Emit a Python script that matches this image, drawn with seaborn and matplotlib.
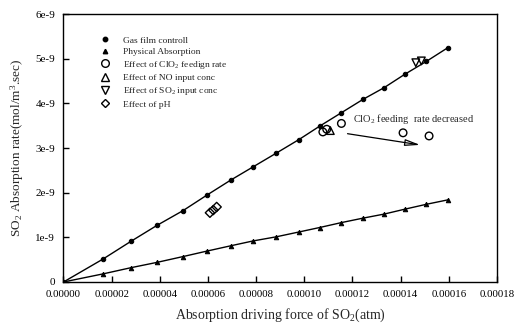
import matplotlib
matplotlib.use("Agg")
import matplotlib.pyplot as plt
from matplotlib.lines import Line2D
import seaborn as sns
import numpy as np
import pandas as pd

# ---- data ----
driving_force = [0.0, 1.63e-5, 2.80e-5, 3.89e-5, 4.97e-5, 5.94e-5, 6.94e-5, 7.88e-5,
                 8.82e-5, 9.78e-5, 10.64e-5, 11.54e-5, 12.44e-5, 13.31e-5, 14.17e-5,
                 15.07e-5, 15.97e-5]
gas_film = [0.0, 0.51e-9, 0.91e-9, 1.27e-9, 1.60e-9, 1.94e-9, 2.28e-9, 2.58e-9,
            2.88e-9, 3.19e-9, 3.49e-9, 3.79e-9, 4.09e-9, 4.35e-9, 4.65e-9,
            4.94e-9, 5.25e-9]
physical = [0.0, 0.18e-9, 0.32e-9, 0.44e-9, 0.57e-9, 0.69e-9, 0.81e-9, 0.92e-9,
            1.01e-9, 1.12e-9, 1.22e-9, 1.33e-9, 1.43e-9, 1.52e-9, 1.63e-9,
            1.74e-9, 1.84e-9]

clo2_x = [10.77e-5, 10.93e-5, 11.54e-5, 14.10e-5, 15.18e-5]
clo2_y = [3.36e-9, 3.42e-9, 3.55e-9, 3.34e-9, 3.27e-9]
no_x = [11.08e-5]
no_y = [3.39e-9]
so2_x = [14.63e-5, 14.86e-5]
so2_y = [4.91e-9, 4.95e-9]
ph_x = [6.08e-5, 6.22e-5, 6.36e-5]
ph_y = [1.55e-9, 1.61e-9, 1.68e-9]

arrow_start = (11.68e-5, 3.33e-9)
arrow_end = (14.92e-5, 3.06e-9)
note_pos = (12.02e-5, 3.65e-9)
note_text = "ClO$_2$ feeding  rate decreased"

x_ticks = [0, 2e-5, 4e-5, 6e-5, 8e-5, 10e-5, 12e-5, 14e-5, 16e-5, 18e-5]
x_tick_labels = ["0.00000", "0.00002", "0.00004", "0.00006", "0.00008",
                 "0.00010", "0.00012", "0.00014", "0.00016", "0.00018"]
y_ticks = [0, 1e-9, 2e-9, 3e-9, 4e-9, 5e-9, 6e-9]
y_tick_labels = ["0", "1e-9", "2e-9", "3e-9", "4e-9", "5e-9", "6e-9"]

labels = ["Gas film controll", "Physical Absorption",
          "Effect of ClO$_2$ feedign rate", "Effect of NO input conc",
          "Effect of SO$_2$ input conc", "Effect of pH"]

# ---- style ----
sns.set_style("ticks")
plt.rcParams["font.family"] = ["Liberation Serif", "DejaVu Serif"]
plt.rcParams["mathtext.fontset"] = "custom"
plt.rcParams["mathtext.rm"] = "Liberation Serif"
plt.rcParams["mathtext.it"] = "Liberation Serif:italic"

fig = plt.figure(figsize=(5.14, 3.26), dpi=100)
ax = fig.add_axes([0.1235, 0.135, 0.8434, 0.822])

df = pd.DataFrame({"x": driving_force, "gas": gas_film, "phys": physical})

sns.lineplot(data=df, x="x", y="gas", ax=ax, color="black", linewidth=1.0,
             marker="o", markersize=3.2, markeredgecolor="black")
sns.lineplot(data=df, x="x", y="phys", ax=ax, color="black", linewidth=1.0,
             marker="^", markersize=3.2, markeredgecolor="black")

open_kw = dict(facecolor="none", edgecolor="black", linewidth=1.0, s=30, ax=ax)
sns.scatterplot(x=clo2_x, y=clo2_y, marker="o", **open_kw)
sns.scatterplot(x=no_x, y=no_y, marker="^", **open_kw)
sns.scatterplot(x=so2_x, y=so2_y, marker="v", **open_kw)
sns.scatterplot(x=ph_x, y=ph_y, marker="D", **dict(open_kw, s=22))

ax.annotate("", xy=arrow_end, xytext=arrow_start,
            arrowprops=dict(arrowstyle="-|>,head_length=0.9,head_width=0.2",
                            color="black", lw=0.9, fill=False))
ax.text(note_pos[0], note_pos[1], note_text, fontsize=7.5, va="center", ha="left")

ax.set_xlim(0, 18e-5)
ax.set_ylim(0, 6e-9)
ax.set_xticks(x_ticks)
ax.set_xticklabels(x_tick_labels, fontsize=7.8)
ax.set_yticks(y_ticks)
ax.set_yticklabels(y_tick_labels, fontsize=8)
ax.tick_params(direction="in", length=4, width=1, pad=6, colors="black")
for s in ax.spines.values():
    s.set_visible(True)
    s.set_linewidth(1.0)
    s.set_color("black")

ax.set_xlabel("Absorption driving force of SO$_2$(atm)", fontsize=10, labelpad=5)
ax.set_ylabel("SO$_2$ Absorption rate(mol/m$^3$.sec)", fontsize=9.5, labelpad=7)

handles = [
    Line2D([], [], ls="none", marker="o", ms=3.2, color="black"),
    Line2D([], [], ls="none", marker="^", ms=3.2, color="black"),
    Line2D([], [], ls="none", marker="o", ms=5.5, mfc="none", mec="black"),
    Line2D([], [], ls="none", marker="^", ms=5.5, mfc="none", mec="black"),
    Line2D([], [], ls="none", marker="v", ms=5.5, mfc="none", mec="black"),
    Line2D([], [], ls="none", marker="D", ms=4.5, mfc="none", mec="black"),
]
ax.legend(handles, labels, loc="upper left", bbox_to_anchor=(0.06, 0.95),
          frameon=False, fontsize=6.8, handletextpad=1.1, labelspacing=0.3,
          handlelength=1.5)

fig.savefig("out.png", dpi=100)
